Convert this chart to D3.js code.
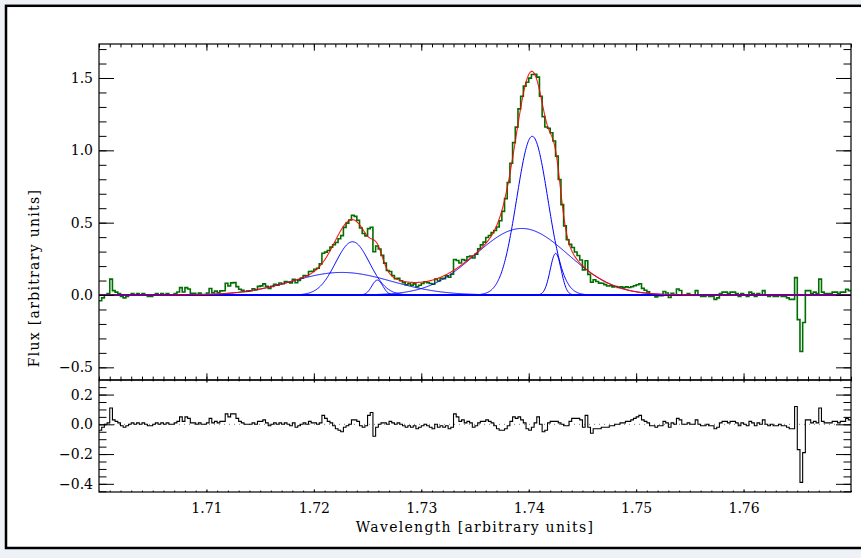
<!DOCTYPE html>
<html><head><meta charset="utf-8">
<script src="https://cdn.jsdelivr.net/npm/d3@7"></script>
<style>
html,body{margin:0;padding:0;background:#eef2f7;}
svg{display:block;}
</style></head><body>
<svg id="c" width="861" height="558"></svg>
<script>
// ---------- data ----------
const xTicks = [1.71, 1.72, 1.73, 1.74, 1.75, 1.76];
const xTickLabels = ["1.71", "1.72", "1.73", "1.74", "1.75", "1.76"];
const yMainTicks = [-0.5, 0.0, 0.5, 1.0, 1.5];
const yMainTickLabels = ["\u22120.5", "0.0", "0.5", "1.0", "1.5"];
const yResTicks = [-0.4, -0.2, 0.0, 0.2];
const yResTickLabels = ["\u22120.4", "\u22120.2", "0.0", "0.2"];

// Gaussian fit components (centre, sigma, amplitude)
const compCenters    = [1.72259, 1.72360, 1.72591, 1.73935, 1.74033, 1.74251];
const compSigmas     = [0.00465, 0.00158, 0.00051, 0.00433, 0.00145, 0.00051];
const compAmplitudes = [0.156,   0.368,   0.103,   0.460,   1.097,   0.288];

// spectrum bins
const binStart = 1.700;
const binWidth = 0.00025;
// residuals (data - fit) per bin
const residuals = [
 -0.04,-0.02,0.00,0.01,0.11,0.03,0.02,0.01,-0.01,-0.02,-0.01,0.00,0.01,0.00,0.01,0.00,0.01,0.00,-0.01,-0.01,
  0.00,0.01,0.00,0.01,0.00,0.01,0.00,0.00,0.01,0.02,0.05,0.02,0.05,0.04,0.01,0.01,0.00,0.01,0.00,0.00,
  0.01,0.04,0.01,0.02,0.01,0.02,0.02,0.07,0.05,0.07,0.07,0.04,0.02,0.01,0.00,0.00,0.00,0.01,0.00,0.02,
  0.02,0.03,0.01,-0.01,0.00,0.01,0.00,0.01,0.00,0.01,0.00,-0.01,0.01,-0.02,-0.01,0.00,0.01,0.00,0.02,0.01,
  0.01,0.00,0.01,0.06,0.04,0.02,0.01,-0.01,-0.03,-0.04,-0.05,-0.02,-0.01,0.00,0.03,0.03,0.02,-0.01,-0.02,-0.01,
  0.06,0.08,-0.08,-0.02,0.00,0.01,0.01,0.00,0.02,0.01,0.00,0.01,0.00,-0.01,-0.02,-0.01,-0.02,-0.01,-0.03,-0.02,
 -0.01,0.00,-0.01,-0.02,-0.03,0.00,-0.02,-0.01,-0.02,-0.01,-0.03,-0.02,0.07,0.05,0.02,0.03,0.01,0.02,0.01,-0.02,
 -0.01,0.01,0.02,0.02,0.03,0.02,0.01,-0.01,-0.03,-0.04,-0.04,-0.03,-0.01,0.02,0.05,0.04,0.05,0.03,0.01,-0.03,
 -0.04,-0.02,0.01,0.05,0.00,-0.05,-0.04,0.01,0.02,0.02,0.02,0.01,0.00,-0.01,-0.01,0.02,0.04,0.04,0.04,0.03,
 -0.02,0.06,-0.02,-0.06,-0.03,-0.03,-0.03,-0.02,-0.02,-0.02,-0.01,-0.01,0.00,0.00,0.01,0.01,0.02,0.02,0.03,0.04,
  0.05,0.06,0.03,0.02,0.01,-0.01,-0.01,-0.02,-0.01,-0.01,0.02,0.01,-0.02,0.01,0.00,0.04,0.03,0.00,0.00,0.01,
  0.00,0.00,0.03,0.00,-0.01,-0.01,0.00,-0.01,-0.01,-0.03,-0.02,0.01,0.02,0.02,0.01,0.02,0.02,0.01,-0.01,0.01,
  0.00,-0.01,0.02,0.01,-0.01,0.01,0.00,0.03,0.00,-0.01,0.00,-0.01,-0.01,0.00,-0.01,-0.01,-0.02,-0.03,-0.03,0.12,
 -0.17,-0.39,-0.19,0.03,0.03,0.01,0.02,0.01,0.11,0.02,0.01,0.01,0.01,0.02,0.02,0.01,0.02,0.02,0.04,0.03
];

// ---------- layout ----------
const L = 99, R = 851, T = 44, MB = 380, RB = 492;
const FONT = "'DejaVu Serif', 'Liberation Serif', serif";

const svg = d3.select("#c");
svg.append("rect").attr("x", 6).attr("y", 5.8).attr("width", 900).attr("height", 542.2)
  .attr("fill", "#fff").attr("stroke", "#000").attr("stroke-width", 2.5);

const x  = d3.scaleLinear().domain([1.70, 1.77]).range([L, R]);
const yM = d3.scaleLinear().domain([-0.5875, 1.735]).range([MB, T]);
const yR = d3.scaleLinear().domain([-0.455, 0.298]).range([RB, MB]);

const defs = svg.append("defs");
defs.append("clipPath").attr("id", "clipM").append("rect")
  .attr("x", L).attr("y", T).attr("width", R - L).attr("height", MB - T);
defs.append("clipPath").attr("id", "clipR").append("rect")
  .attr("x", L).attr("y", MB).attr("width", R - L).attr("height", RB - MB);

function gauss(k, w) {
  const d = (w - compCenters[k]) / compSigmas[k];
  return compAmplitudes[k] * Math.exp(-0.5 * d * d);
}
function fit(w) { let s = 0; for (let k = 0; k < compCenters.length; k++) s += gauss(k, w); return s; }

const grid = d3.range(0, 1401).map(i => 1.70 + i * 0.00005);

// observed spectrum = fit + residual, drawn as histogram steps
const binEdges = residuals.map((r, i) => binStart + i * binWidth);
const flux = residuals.map((r, i) => fit(binStart + (i + 0.5) * binWidth) + r);
const dataPts = flux.map((f, i) => [binEdges[i], f]);
dataPts.push([binStart + residuals.length * binWidth, flux[flux.length - 1]]);
const resPts = residuals.map((r, i) => [binEdges[i], r]);
resPts.push([binStart + residuals.length * binWidth, residuals[residuals.length - 1]]);

const gM = svg.append("g").attr("clip-path", "url(#clipM)");
const stepM = d3.line().x(d => x(d[0])).y(d => yM(d[1])).curve(d3.curveStepAfter);
gM.append("path").attr("d", stepM(dataPts)).attr("fill", "none")
  .attr("stroke", "#006e00").attr("stroke-width", 1.6);

const smooth = d3.line().x(d => x(d[0])).y(d => yM(d[1]));
for (let k = 0; k < compCenters.length; k++) {
  gM.append("path").attr("d", smooth(grid.map(w => [w, gauss(k, w)])))
    .attr("fill", "none").attr("stroke", "#0000ff").attr("stroke-width", 1);
}
gM.append("line").attr("x1", L).attr("x2", R).attr("y1", yM(0)).attr("y2", yM(0))
  .attr("stroke", "#0000ff").attr("stroke-width", 2.2);
gM.append("path").attr("d", smooth(grid.map(w => [w, fit(w)])))
  .attr("fill", "none").attr("stroke", "#ff0000").attr("stroke-width", 1.1).attr("stroke-opacity", 0.9);

// residual panel
const gR = svg.append("g").attr("clip-path", "url(#clipR)");
gR.append("line").attr("x1", L).attr("x2", R).attr("y1", yR(0)).attr("y2", yR(0))
  .attr("stroke", "#777").attr("stroke-width", 1).attr("stroke-dasharray", "1,4");
const stepR = d3.line().x(d => x(d[0])).y(d => yR(d[1])).curve(d3.curveStepAfter);
gR.append("path").attr("d", stepR(resPts)).attr("fill", "none")
  .attr("stroke", "#000").attr("stroke-width", 1.1);

// ---------- axes ----------
function axis(gen, tr, vals, size, labels, pad) {
  const g = svg.append("g").attr("transform", tr)
    .call(gen.tickValues(vals).tickSize(size).tickSizeOuter(0).tickPadding(pad || 3)
      .tickFormat(labels ? ((d, i) => labels[i]) : () => ""));
  g.select(".domain").remove();
  g.attr("font-family", FONT).attr("font-size", 14);
  g.selectAll("line").attr("stroke", "#000");
  g.selectAll("text").attr("fill", "#000");
  return g;
}
const xMinor = d3.range(0, 71).map(i => 1.70 + i * 0.001);
const yMMinor = d3.range(-5, 18).map(i => i / 10);
const yRMinor = d3.range(-9, 6).map(i => i * 0.05);

// main panel
axis(d3.axisLeft(yM), `translate(${L},0)`, yMainTicks, -15, yMainTickLabels, 6);
axis(d3.axisLeft(yM), `translate(${L},0)`, yMMinor, -7.5);
axis(d3.axisRight(yM), `translate(${R},0)`, yMainTicks, -15);
axis(d3.axisRight(yM), `translate(${R},0)`, yMMinor, -7.5);
axis(d3.axisTop(x), `translate(0,${T})`, xTicks, -6.7);
axis(d3.axisTop(x), `translate(0,${T})`, xMinor, -3.4);
axis(d3.axisBottom(x), `translate(0,${MB})`, xTicks, -6.7);
axis(d3.axisBottom(x), `translate(0,${MB})`, xMinor, -3.4);
// residual panel
axis(d3.axisLeft(yR), `translate(${L},0)`, yResTicks, -15, yResTickLabels, 6);
axis(d3.axisLeft(yR), `translate(${L},0)`, yRMinor, -7.5);
axis(d3.axisRight(yR), `translate(${R},0)`, yResTicks, -15);
axis(d3.axisRight(yR), `translate(${R},0)`, yRMinor, -7.5);
axis(d3.axisTop(x), `translate(0,${MB})`, xTicks, -2.6);
axis(d3.axisTop(x), `translate(0,${MB})`, xMinor, -1.4);
axis(d3.axisBottom(x), `translate(0,${RB})`, xTicks, -2.6, xTickLabels, 11);
axis(d3.axisBottom(x), `translate(0,${RB})`, xMinor, -1.4);

// panel frames
svg.append("rect").attr("x", L).attr("y", T).attr("width", R - L).attr("height", MB - T)
  .attr("fill", "none").attr("stroke", "#000").attr("stroke-width", 1.2);
svg.append("rect").attr("x", L).attr("y", MB).attr("width", R - L).attr("height", RB - MB)
  .attr("fill", "none").attr("stroke", "#000").attr("stroke-width", 1.2);

// titles
svg.append("text").attr("x", (L + R) / 2).attr("y", 532).attr("text-anchor", "middle")
  .attr("font-family", FONT).attr("font-size", 14).attr("letter-spacing", 1.3)
  .text("Wavelength [arbitrary units]");
svg.append("text").attr("transform", "translate(39,278) rotate(-90)").attr("text-anchor", "middle")
  .attr("font-family", FONT).attr("font-size", 14).attr("letter-spacing", 1.3)
  .text("Flux [arbitrary units]");
</script>
</body></html>
